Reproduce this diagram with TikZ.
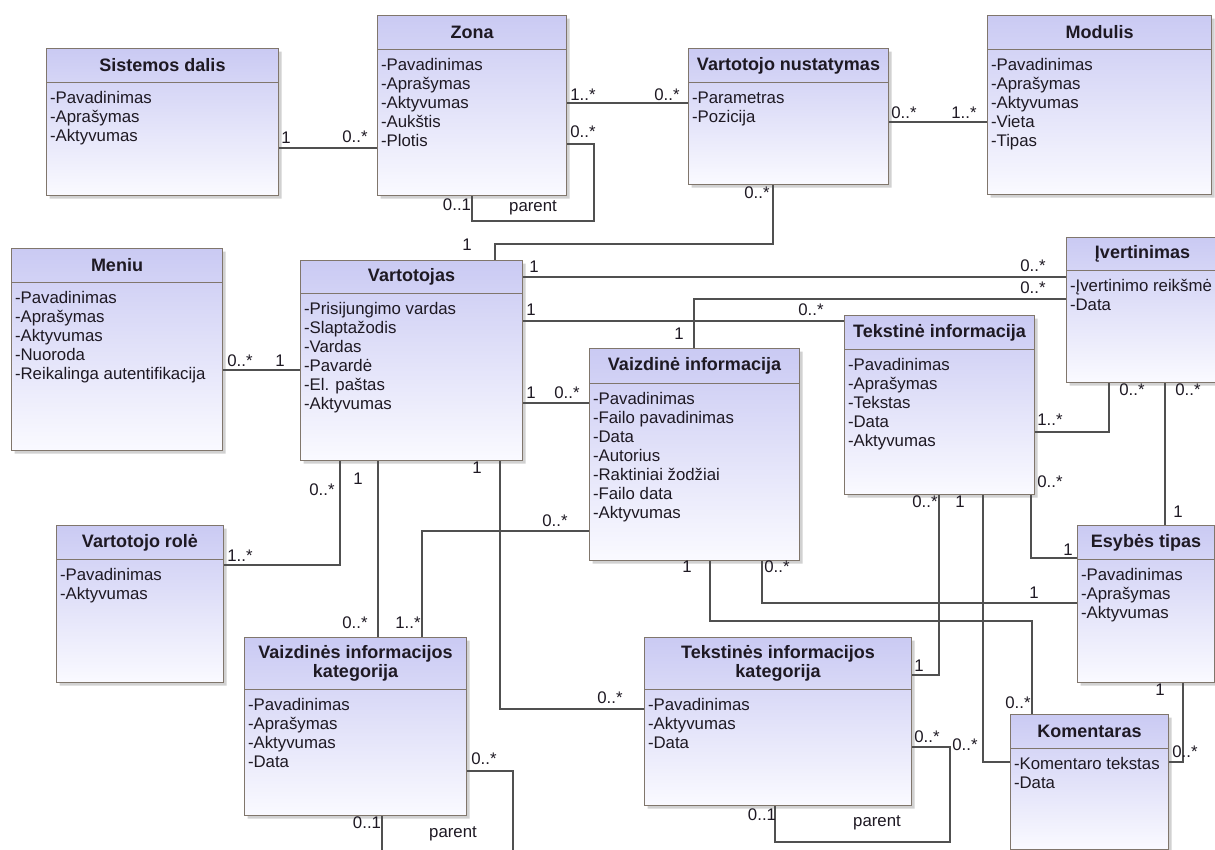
\documentclass[tikz,border=0pt]{standalone}
\usepackage{fontspec}
\setmainfont{Liberation Sans}
\usetikzlibrary{shapes.multipart,shadows}
\definecolor{clsline}{RGB}{128,118,108}
\definecolor{clstop}{RGB}{202,202,243}
\definecolor{clsbot}{RGB}{250,250,255}
\definecolor{conline}{RGB}{80,80,80}
\definecolor{txt}{RGB}{30,25,35}
\newcommand\clshead[3]{\parbox[c][#2pt][c]{#1pt}{\centering\fontsize{18}{19.5}\selectfont\bfseries #3}}
\newcommand\clsbody[3]{\parbox[c][#2pt][t]{#1pt}{\raggedright\leftskip=3.5pt\fontsize{16.8}{19}\selectfont\rule{0pt}{20.5pt}#3}}

\begin{document}
\begin{tikzpicture}[x=1pt, y=-1pt,
  cls/.style={rectangle split, rectangle split parts=2, anchor=north west, inner sep=0pt,
    draw=clsline, line width=1pt, top color=clstop, bottom color=clsbot, text=txt,
    drop shadow={shadow xshift=3pt, shadow yshift=-3pt, fill=black!40, opacity=.45}},
  lbl/.style={inner sep=0pt, text=txt, font=\fontsize{16.8}{16.8}\selectfont},
  con/.style={draw=conline, line width=1.2pt}]
\useasboundingbox (0,0) rectangle (1215,849);
\fill[white] (0,0) rectangle (1215,849);

\node[cls] (sd) at (46,48) {\clshead{232}{33}{Sistemos dalis}\nodepart{two}\clsbody{232}{112}{-Pavadinimas\\-Aprašymas\\-Aktyvumas}};
\node[cls] (zona) at (377,15) {\clshead{189}{33}{Zona}\nodepart{two}\clsbody{189}{145}{-Pavadinimas\\-Aprašymas\\-Aktyvumas\\-Aukštis\\-Plotis}};
\node[cls] (vn) at (688,48) {\clshead{200}{33}{Vartotojo nustatymas}\nodepart{two}\clsbody{200}{101}{-Parametras\\-Pozicija}};
\node[cls] (mod) at (987,15) {\clshead{224}{33}{Modulis}\nodepart{two}\clsbody{224}{144}{-Pavadinimas\\-Aprašymas\\-Aktyvumas\\-Vieta\\-Tipas}};
\node[cls] (meniu) at (11,248) {\clshead{211}{33}{Meniu}\nodepart{two}\clsbody{211}{167}{-Pavadinimas\\-Aprašymas\\-Aktyvumas\\-Nuoroda\\-Reikalinga autentifikacija}};
\node[cls] (vart) at (300,260) {\clshead{222}{32}{Vartotojas}\nodepart{two}\clsbody{222}{166}{-Prisijungimo vardas\\-Slaptažodis\\-Vardas\\-Pavardė\\-El. paštas\\-Aktyvumas}};
\node[cls] (vi) at (589,348) {\clshead{210}{34}{Vaizdinė informacija}\nodepart{two}\clsbody{210}{176}{-Pavadinimas\\-Failo pavadinimas\\-Data\\-Autorius\\-Raktiniai žodžiai\\-Failo data\\-Aktyvumas}};
\node[cls] (ti) at (844,315) {\clshead{190}{33}{Tekstinė informacija}\nodepart{two}\clsbody{190}{144}{-Pavadinimas\\-Aprašymas\\-Tekstas\\-Data\\-Aktyvumas}};
\node[cls] (ivert) at (1066,237) {\clshead{152}{32}{Įvertinimas}\nodepart{two}\clsbody{152}{111}{-Įvertinimo reikšmė\\-Data}};
\node[cls] (et) at (1077,525) {\clshead{137}{33}{Esybės tipas}\nodepart{two}\clsbody{137}{122}{-Pavadinimas\\-Aprašymas\\-Aktyvumas}};
\node[cls] (vr) at (56,525) {\clshead{167}{33}{Vartotojo rolė}\nodepart{two}\clsbody{167}{122}{-Pavadinimas\\-Aktyvumas}};
\node[cls] (vik) at (244,637) {\clshead{222}{51}{Vaizdinės informacijos\\kategorija}\nodepart{two}\clsbody{222}{125}{-Pavadinimas\\-Aprašymas\\-Aktyvumas\\-Data}};
\node[cls] (tik) at (644,637) {\clshead{267}{51}{Tekstinės informacijos\\kategorija}\nodepart{two}\clsbody{267}{115}{-Pavadinimas\\-Aktyvumas\\-Data}};
\node[cls] (kom) at (1010,714) {\clshead{158}{33}{Komentaras}\nodepart{two}\clsbody{158}{100}{-Komentaro tekstas\\-Data}};

\draw[con] (sd.east |- 0,148) -- (zona.west |- 0,148);
\draw[con] (zona.east |- 0,103) -- (vn.west |- 0,103);
\draw[con] (zona.east |- 0,144) -| (594,221) -| (zona.south -| 472,0);
\draw[con] (vn.east |- 0,122) -- (mod.west |- 0,122);
\draw[con] (vn.south -| 773,0) -- (773,244) -| (vart.north -| 495,0);
\draw[con] (meniu.east |- 0,370) -- (vart.west |- 0,370);
\draw[con] (vart.east |- 0,277) -- (ivert.west |- 0,277);
\draw[con] (vi.north -| 694,0) |- (ivert.west |- 0,299);
\draw[con] (vart.east |- 0,321) -- (ti.west |- 0,321);
\draw[con] (vart.east |- 0,403) -- (vi.west |- 0,403);
\draw[con] (vart.south -| 340,0) |- (vr.east |- 0,565);
\draw[con] (vart.south -| 378,0) -- (vik.north -| 378,0);
\draw[con] (vik.north -| 422,0) |- (vi.west |- 0,531);
\draw[con] (vart.south -| 500,0) |- (tik.west |- 0,709);
\draw[con] (vi.south -| 710,0) -- (710,621) -| (kom.north -| 1032,0);
\draw[con] (vi.south -| 762,0) |- (et.west |- 0,603);
\draw[con] (ti.east |- 0,432) -| (ivert.south -| 1109,0);
\draw[con] (ivert.south -| 1165,0) -- (et.north -| 1165,0);
\draw[con] (ti.south -| 1031,0) |- (et.west |- 0,558);
\draw[con] (ti.south -| 939,0) |- (tik.east |- 0,675);
\draw[con] (ti.south -| 983,0) |- (kom.west |- 0,762);
\draw[con] (et.south -| 1183,0) |- (kom.east |- 0,762);
\draw[con] (tik.east |- 0,747) -| (950,842) -| (tik.south -| 775,0);
\draw[con] (vik.east |- 0,771) -| (513,880) -| (vik.south -| 382,0);

\node[lbl] (l1) at (286,138) {1};
\node[lbl] (l2) at (355,137) {0..*};
\node[lbl] (l3) at (583,95) {1..*};
\node[lbl] (l4) at (667,95) {0..*};
\node[lbl] (l5) at (583,132) {0..*};
\node[lbl] (l6) at (457,205) {0..1};
\node[lbl] (l7) at (533,208) {parent};
\node[lbl] (l8) at (904,113) {0..*};
\node[lbl] (l9) at (964,113) {1..*};
\node[lbl] (l10) at (757,193) {0..*};
\node[lbl] (l11) at (467,245) {1};
\node[lbl] (l12) at (240,361) {0..*};
\node[lbl] (l13) at (280,361) {1};
\node[lbl] (l14) at (534,267) {1};
\node[lbl] (l15) at (1033,266) {0..*};
\node[lbl] (l16) at (679,334) {1};
\node[lbl] (l17) at (1033,288) {0..*};
\node[lbl] (l18) at (531,310) {1};
\node[lbl] (l19) at (811,310) {0..*};
\node[lbl] (l20) at (531,393) {1};
\node[lbl] (l21) at (567,393) {0..*};
\node[lbl] (l22) at (322,490) {0..*};
\node[lbl] (l23) at (240,556) {1..*};
\node[lbl] (l24) at (358,479) {1};
\node[lbl] (l25) at (355,623) {0..*};
\node[lbl] (l26) at (408,623) {1..*};
\node[lbl] (l27) at (555,521) {0..*};
\node[lbl] (l28) at (477,468) {1};
\node[lbl] (l29) at (610,698) {0..*};
\node[lbl] (l30) at (687,567) {1};
\node[lbl] (l31) at (1018,703) {0..*};
\node[lbl] (l32) at (777,567) {0..*};
\node[lbl] (l33) at (1034,593) {1};
\node[lbl] (l34) at (1050,420) {1..*};
\node[lbl] (l35) at (1132,390) {0..*};
\node[lbl] (l36) at (1188,390) {0..*};
\node[lbl] (l37) at (1178,512) {1};
\node[lbl] (l38) at (1050,482) {0..*};
\node[lbl] (l39) at (1068,550) {1};
\node[lbl] (l40) at (925,502) {0..*};
\node[lbl] (l41) at (919,666) {1};
\node[lbl] (l42) at (960,502) {1};
\node[lbl] (l43) at (965,745) {0..*};
\node[lbl] (l44) at (1160,690) {1};
\node[lbl] (l45) at (1185,752) {0..*};
\node[lbl] (l46) at (927,737) {0..*};
\node[lbl] (l47) at (762,815) {0..1};
\node[lbl] (l48) at (877,823) {parent};
\node[lbl] (l49) at (484,759) {0..*};
\node[lbl] (l50) at (367,823) {0..1};
\node[lbl] (l51) at (453,834) {parent};
\end{tikzpicture}
\end{document}
